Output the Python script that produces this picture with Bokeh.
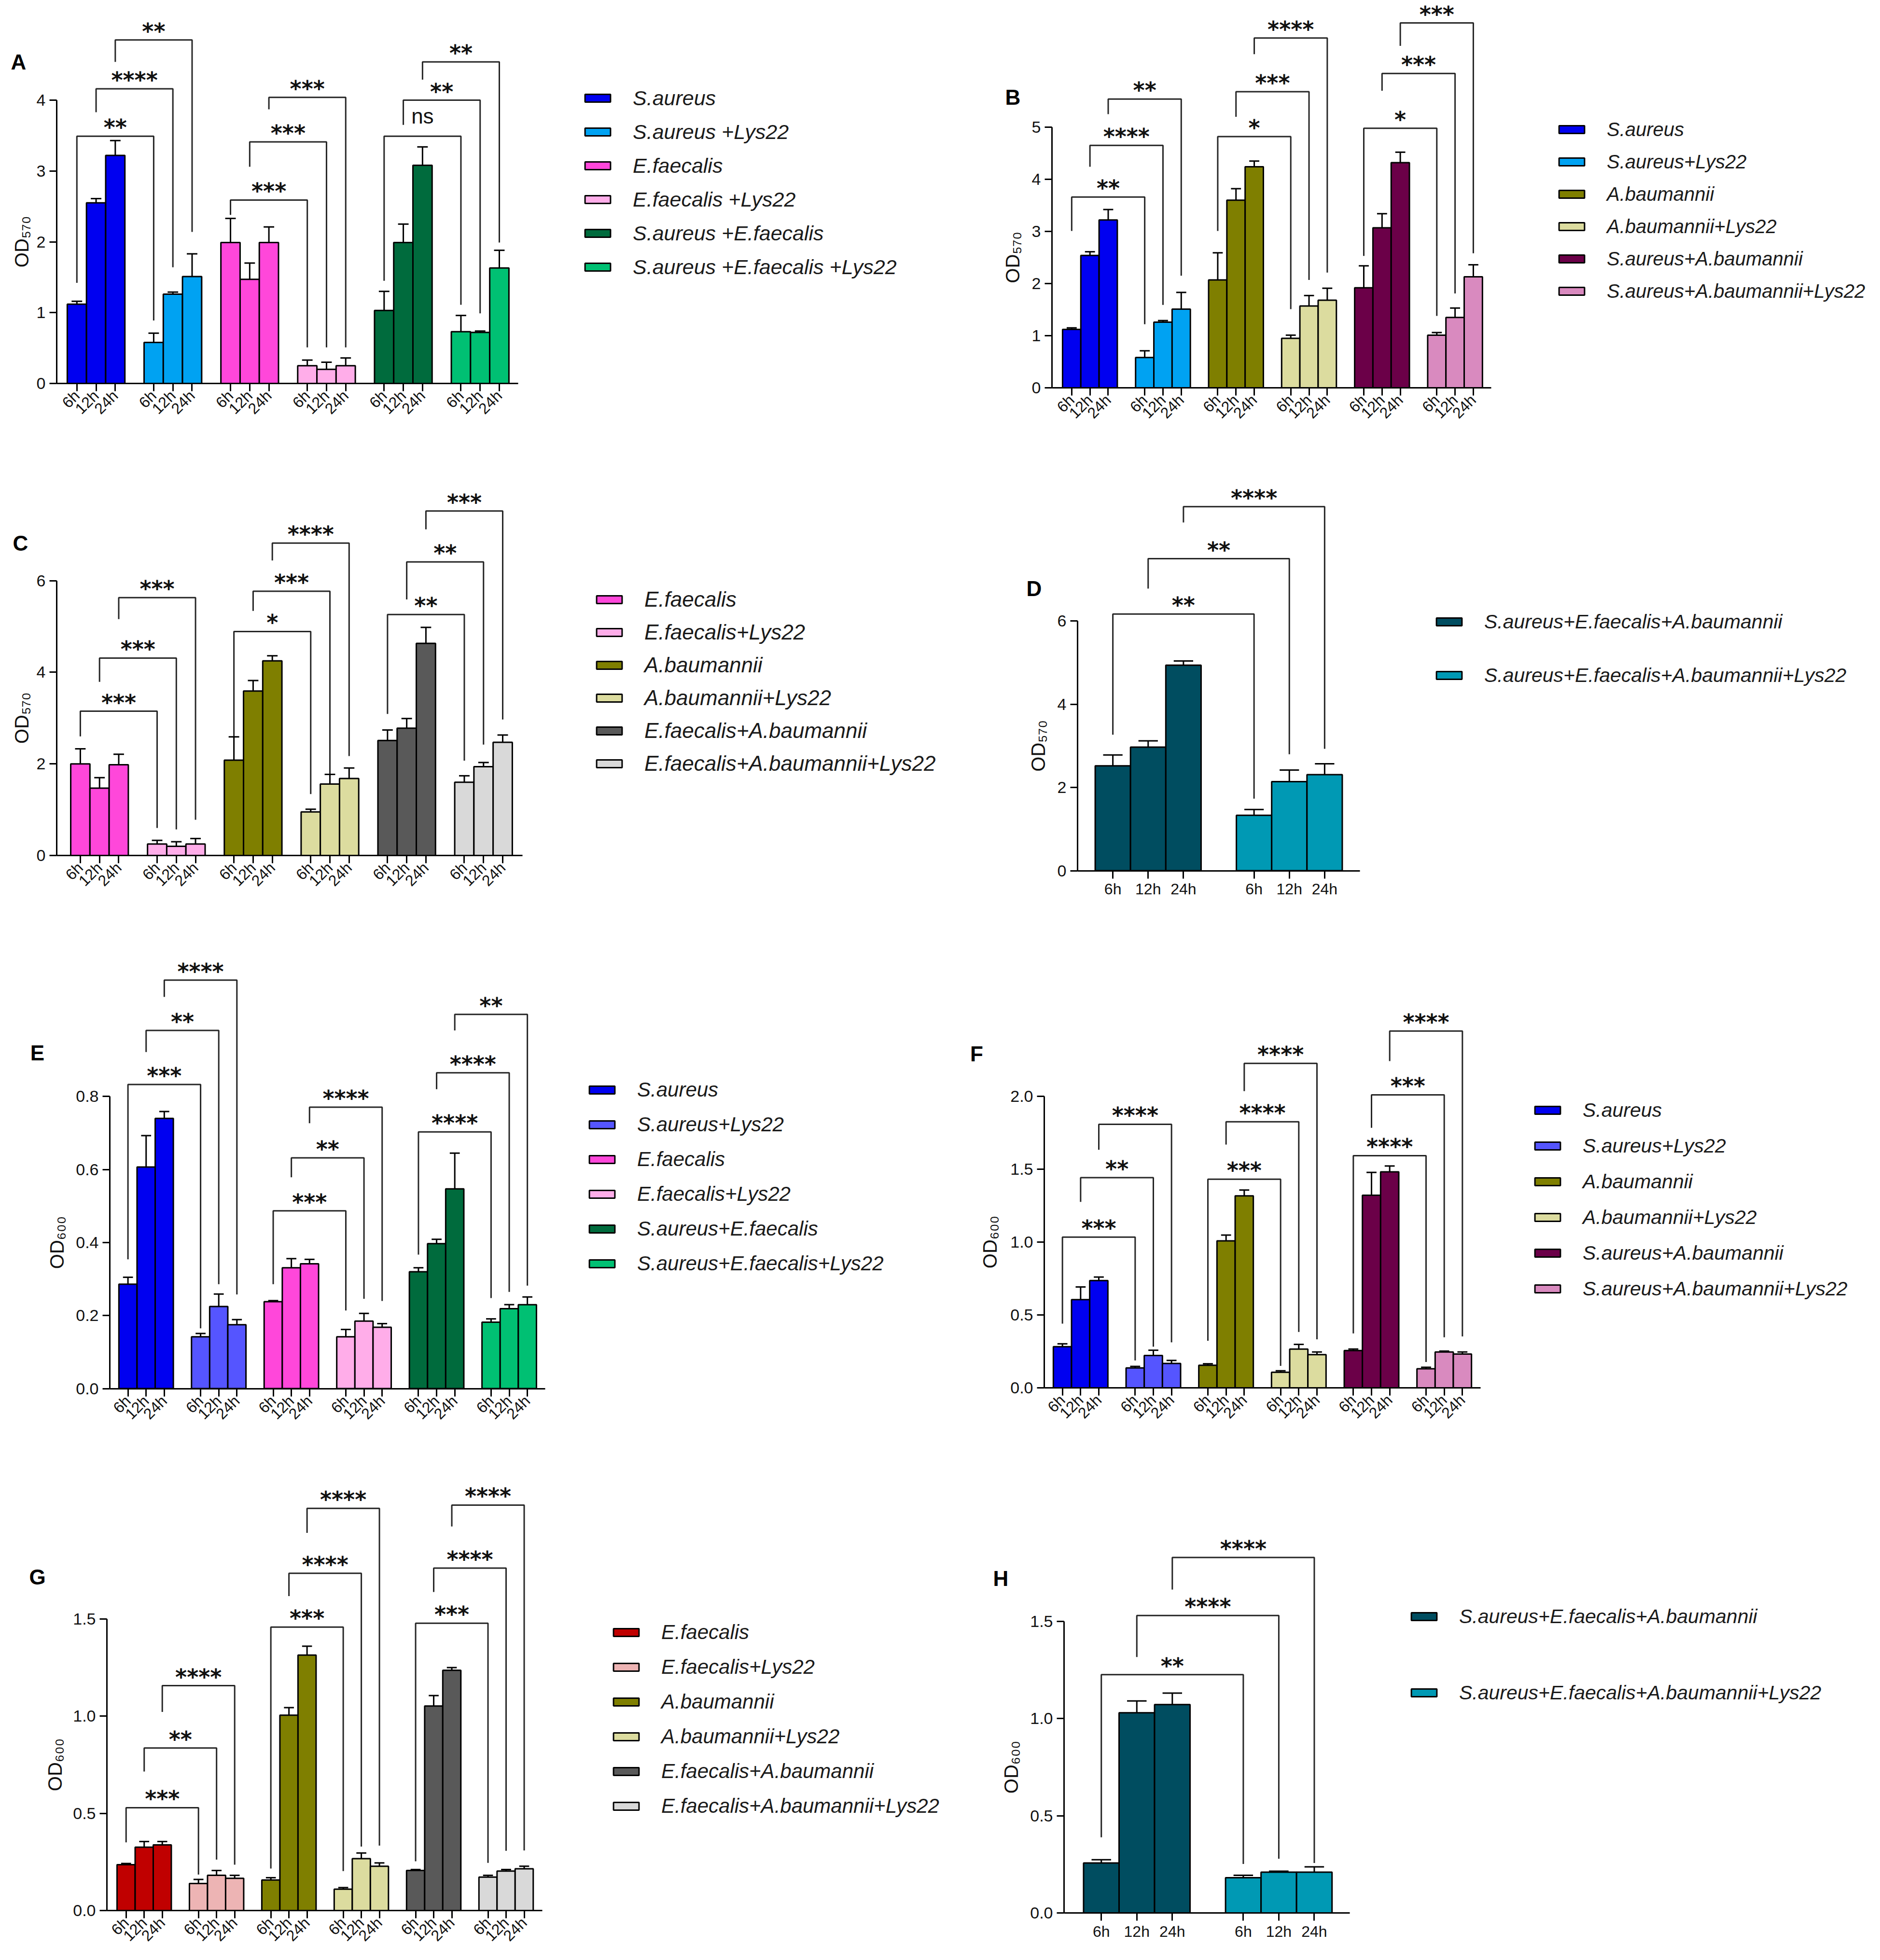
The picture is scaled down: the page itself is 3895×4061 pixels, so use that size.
import math
from bokeh.plotting import figure
from bokeh.models import (ColumnDataSource, Range1d, FixedTicker, Legend, LegendItem,
                          Whisker, TeeHead, LabelSet, Label, PrintfTickFormatter)
from bokeh.layouts import column, row
from bokeh.embed import file_html
from bokeh.resources import INLINE
from bokeh.core.properties import value

TIMES = ["6h", "12h", "24h"]

# ---------------- Panel A (biofilm, OD570) ----------------
A_GROUPS = ["S.aureus", "S.aureus +Lys22", "E.faecalis", "E.faecalis +Lys22",
            "S.aureus +E.faecalis", "S.aureus +E.faecalis +Lys22"]
A_MEAN = [[1.12, 2.55, 3.22], [0.58, 1.26, 1.51], [1.99, 1.47, 1.99],
          [0.25, 0.20, 0.25], [1.03, 1.99, 3.08], [0.73, 0.72, 1.63]]
A_ERR = [[0.04, 0.06, 0.21], [0.13, 0.03, 0.32], [0.34, 0.23, 0.22],
         [0.08, 0.10, 0.11], [0.27, 0.26, 0.26], [0.23, 0.02, 0.25]]
A_SIG = [["**", "****", "**"], ["***", "***", "***"], ["ns", "**", "**"]]
A_SIG_Y = [[3.49, 4.16, 4.85], [2.59, 3.41, 4.04], [3.49, 4.00, 4.54]]
A_LEG_L = [[1.42, 3.83, 4.54], [2.38, 3.06, 3.87], [1.45, 3.65, 4.29]]
A_LEG_R = [[0.89, 1.64, 2.14], [0.51, 0.51, 0.51], [1.11, 0.99, 1.99]]
A_YTICKS = [0, 1, 2, 3, 4]

# ---------------- Panel B (biofilm, OD570) ----------------
B_GROUPS = ["S.aureus", "S.aureus+Lys22", "A.baumannii", "A.baumannii+Lys22",
            "S.aureus+A.baumannii", "S.aureus+A.baumannii+Lys22"]
B_MEAN = [[1.12, 2.54, 3.22], [0.58, 1.26, 1.51], [2.07, 3.60, 4.24],
          [0.95, 1.57, 1.68], [1.92, 3.07, 4.32], [1.01, 1.35, 2.13]]
B_ERR = [[0.03, 0.07, 0.20], [0.13, 0.03, 0.32], [0.52, 0.22, 0.11],
         [0.06, 0.20, 0.23], [0.42, 0.27, 0.20], [0.05, 0.18, 0.23]]
B_SIG = [["**", "****", "**"], ["*", "***", "****"], ["*", "***", "***"]]
B_SIG_Y = [[3.66, 4.65, 5.54], [4.82, 5.68, 6.71], [4.98, 6.03, 7.00]]
B_LEG_L = [[3.01, 4.24, 5.25], [3.01, 5.20, 6.40], [2.53, 5.70, 6.56]]
B_LEG_R = [[1.22, 1.59, 2.15], [1.51, 2.07, 2.21], [1.38, 1.81, 2.58]]
B_YTICKS = [0, 1, 2, 3, 4, 5]

# ---------------- Panel C (biofilm, OD570) ----------------
C_GROUPS = ["E.faecalis", "E.faecalis+Lys22", "A.baumannii", "A.baumannii+Lys22",
            "E.faecalis+A.baumannii", "E.faecalis+A.baumannii+Lys22"]
C_MEAN = [[2.00, 1.47, 1.98], [0.25, 0.20, 0.25], [2.08, 3.59, 4.25],
          [0.95, 1.56, 1.68], [2.51, 2.78, 4.63], [1.60, 1.94, 2.47]]
C_ERR = [[0.33, 0.23, 0.23], [0.08, 0.10, 0.12], [0.51, 0.23, 0.11],
         [0.06, 0.21, 0.23], [0.23, 0.21, 0.35], [0.14, 0.09, 0.16]]
C_SIG = [["***", "***", "***"], ["*", "***", "****"], ["**", "**", "***"]]
C_SIG_Y = [[3.15, 4.31, 5.63], [4.89, 5.77, 6.82], [5.26, 6.41, 7.52]]
C_LEG_L = [[2.60, 3.79, 5.16], [2.57, 5.34, 6.44], [3.09, 5.59, 7.12]]
C_LEG_R = [[0.60, 0.57, 0.78], [1.34, 1.75, 2.17], [2.07, 2.42, 2.97]]
C_YTICKS = [0, 2, 4, 6]

# ---------------- Panel D (biofilm, OD570) ----------------
D_GROUPS = ["S.aureus+E.faecalis+A.baumannii", "S.aureus+E.faecalis+A.baumannii+Lys22"]
D_MEAN = [[2.52, 2.97, 4.94], [1.33, 2.14, 2.31]]
D_ERR = [[0.26, 0.15, 0.10], [0.14, 0.28, 0.26]]
D_SIG = [["**", "**", "****"]]
D_SIG_Y = [[6.17, 7.50, 8.75]]
D_LEG_L = [[3.27, 6.78, 8.37]]
D_LEG_R = [[1.73, 2.80, 2.93]]
D_YTICKS = [0, 2, 4, 6]

# ---------------- Panel E (planktonic, OD600) ----------------
E_GROUPS = ["S.aureus", "S.aureus+Lys22", "E.faecalis", "E.faecalis+Lys22",
            "S.aureus+E.faecalis", "S.aureus+E.faecalis+Lys22"]
E_MEAN = [[0.286, 0.607, 0.740], [0.142, 0.225, 0.175], [0.238, 0.331, 0.342],
          [0.142, 0.185, 0.168], [0.320, 0.397, 0.547], [0.182, 0.219, 0.230]]
E_ERR = [[0.019, 0.086, 0.019], [0.009, 0.034, 0.014], [0.003, 0.025, 0.012],
         [0.020, 0.021, 0.010], [0.011, 0.012, 0.098], [0.009, 0.011, 0.021]]
E_SIG = [["***", "**", "****"], ["***", "**", "****"], ["****", "****", "**"]]
E_SIG_Y = [[0.833, 0.981, 1.119], [0.487, 0.632, 0.771], [0.703, 0.865, 1.025]]
E_LEG_L = [[0.354, 0.922, 1.073], [0.286, 0.579, 0.727], [0.367, 0.820, 0.981]]
E_LEG_R = [[0.165, 0.286, 0.258], [0.214, 0.246, 0.240], [0.248, 0.265, 0.282]]
E_YTICKS = [0.0, 0.2, 0.4, 0.6, 0.8]

# ---------------- Panel F (planktonic, OD600) ----------------
F_GROUPS = ["S.aureus", "S.aureus+Lys22", "A.baumannii", "A.baumannii+Lys22",
            "S.aureus+A.baumannii", "S.aureus+A.baumannii+Lys22"]
F_MEAN = [[0.282, 0.605, 0.736], [0.137, 0.222, 0.167], [0.155, 1.008, 1.317],
          [0.107, 0.266, 0.228], [0.256, 1.321, 1.482], [0.131, 0.246, 0.232]]
F_ERR = [[0.020, 0.087, 0.024], [0.010, 0.036, 0.021], [0.010, 0.040, 0.040],
         [0.010, 0.032, 0.018], [0.010, 0.157, 0.040], [0.010, 0.006, 0.014]]
F_SIG = [["***", "**", "****"], ["***", "****", "****"], ["****", "***", "****"]]
F_SIG_Y = [[1.034, 1.442, 1.808], [1.431, 1.825, 2.226], [1.593, 2.010, 2.448]]
F_LEG_L = [[0.440, 1.276, 1.633], [0.323, 1.669, 2.036], [0.373, 1.784, 2.242]]
F_LEG_R = [[0.188, 0.282, 0.312], [0.151, 0.383, 0.333], [0.177, 0.347, 0.353]]
F_YTICKS = [0.0, 0.5, 1.0, 1.5, 2.0]

# ---------------- Panel G (planktonic, OD600) ----------------
G_GROUPS = ["E.faecalis", "E.faecalis+Lys22", "A.baumannii", "A.baumannii+Lys22",
            "E.faecalis+A.baumannii", "E.faecalis+A.baumannii+Lys22"]
G_MEAN = [[0.236, 0.326, 0.338], [0.139, 0.181, 0.166], [0.157, 1.005, 1.314],
          [0.110, 0.267, 0.228], [0.206, 1.052, 1.236], [0.172, 0.203, 0.215]]
G_ERR = [[0.006, 0.029, 0.017], [0.021, 0.025, 0.015], [0.012, 0.039, 0.046],
         [0.008, 0.029, 0.017], [0.005, 0.054, 0.014], [0.009, 0.008, 0.013]]
G_SIG = [["***", "**", "****"], ["***", "****", "****"], ["***", "****", "****"]]
G_SIG_Y = [[0.529, 0.836, 1.157], [1.458, 1.735, 2.069], [1.478, 1.762, 2.086]]
G_LEG_L = [[0.351, 0.715, 1.022], [0.216, 1.618, 1.943], [0.253, 1.639, 1.976]]
G_LEG_R = [[0.185, 0.262, 0.236], [0.203, 0.329, 0.334], [0.245, 0.307, 0.309]]
G_YTICKS = [0.0, 0.5, 1.0, 1.5]

# ---------------- Panel H (planktonic, OD600) ----------------
H_GROUPS = ["S.aureus+E.faecalis+A.baumannii", "S.aureus+E.faecalis+A.baumannii+Lys22"]
H_MEAN = [[0.257, 1.030, 1.072], [0.181, 0.210, 0.210]]
H_ERR = [[0.017, 0.061, 0.059], [0.013, 0.005, 0.027]]
H_SIG = [["**", "****", "****"]]
H_SIG_Y = [[1.226, 1.530, 1.829]]
H_LEG_L = [[0.389, 1.317, 1.664]]
H_LEG_R = [[0.252, 0.279, 0.257]]
H_YTICKS = [0.0, 0.5, 1.0, 1.5]

# ---------------- styles ----------------
BLUE, SKY, PERI = "#0000F0", "#00A2F2", "#5555FF"
PINK, LPINK = "#FF47DA", "#FFADE9"
RED, SALMON = "#C00000", "#EDB4B4"
DGREEN, GREEN = "#006B3D", "#00C073"
OLIVE, KHAKI = "#7F7F00", "#DCDC9F"
MAROON, MAUVE = "#6B0048", "#D98ABF"
DGRAY, LGRAY = "#595959", "#D9D9D9"
TEAL_D, TEAL = "#004D60", "#0099B4"

FONT = "Liberation Sans"
STAR_FONT = "DejaVu Sans"

LEFT_X, LEFT_W = 8, 1990
RIGHT_X, RIGHT_W = 1998, 1889
ROWS = [(8, 928), (928, 1893), (1893, 2978), (2978, 4048)]


def make_panel(letter, groups, colors, means, errs, sig, sig_y, leg_l, leg_r,
               yticks, ylabel, fmt, g):
    rowt, rowb = ROWS[g["row"]]
    figx, figw = (LEFT_X, LEFT_W) if g["col"] == 0 else (RIGHT_X, RIGHT_W)
    height = rowb - rowt
    ax0, ax1 = g["xr"]                       # data extent of the x axis line
    bar_px = (g["fr"] - g["fl"]) / (ax1 - ax0)
    px0 = g["fl"] - ax0 * bar_px             # page px of data x = 0
    ppu = g["ppu"]
    p = figure(width=figw, height=height, title=None,
               x_range=Range1d((figx - px0) / bar_px, (figx + figw - px0) / bar_px),
               y_range=Range1d((g["y0"] - rowb) / ppu, (g["y0"] - rowt) / ppu),
               min_border_left=0, min_border_right=0, min_border_top=0, min_border_bottom=0,
               output_backend="svg", toolbar_location=None)
    p.xgrid.visible = False
    p.ygrid.visible = False
    p.outline_line_color = None
    p.background_fill_color = "white"
    p.border_fill_color = "white"

    renderers = []
    for gi, name in enumerate(groups):
        xs = [gi * 4 + t for t in range(len(TIMES))]
        ups = [m + e for m, e in zip(means[gi], errs[gi])]
        src = ColumnDataSource(dict(x=xs, top=means[gi], upper=ups))
        r = p.vbar(x="x", top="top", bottom=0, width=1, source=src,
                   fill_color=colors[gi], line_color="black", line_width=3)
        renderers.append(r)
        p.add_layout(Whisker(source=src, base="x", upper="upper", lower="top",
                             dimension="height", line_color="black", line_width=3,
                             upper_head=TeeHead(size=bar_px * 0.55, line_color="black",
                                                line_width=3),
                             lower_head=None, level="annotation"))

    bx, by = [], []
    sx, sy, st = [], [], []
    nx, ny, nt = [], [], []
    for k in range(len(sig)):
        for t in range(len(TIMES)):
            xl = (2 * k) * 4 + t
            xr = (2 * k + 1) * 4 + t
            bx.append([xl, xl, xr, xr])
            by.append([leg_l[k][t], sig_y[k][t], sig_y[k][t], leg_r[k][t]])
            if sig[k][t] == "ns":
                nx.append((xl + xr) / 2); ny.append(sig_y[k][t]); nt.append(sig[k][t])
            else:
                sx.append((xl + xr) / 2); sy.append(sig_y[k][t]); st.append(sig[k][t])
    p.multi_line(xs=bx, ys=by, line_color="#262626", line_width=3)
    p.add_layout(LabelSet(x="x", y="y", text="t", source=ColumnDataSource(dict(x=sx, y=sy, t=st)),
                          text_align="center", text_baseline="alphabetic", y_offset=2,
                          text_font=value(STAR_FONT), text_font_style="bold",
                          text_font_size="46px", text_color="#111111"))
    if nt:
        p.add_layout(LabelSet(x="x", y="y", text="t", source=ColumnDataSource(dict(x=nx, y=ny, t=nt)),
                              text_align="center", text_baseline="alphabetic", y_offset=26,
                              text_font=value(FONT), text_font_size="44px",
                              text_color="#111111"))

    # panel letter
    p.add_layout(Label(x=(g["letter"][0] - px0) / bar_px, y=g["letter"][1],
                       text=letter, text_align="center", text_baseline="middle",
                       text_font=FONT, text_font_style="bold", text_font_size="44px",
                       text_color="black"))
    # y-axis title, centred on the drawn axis
    p.add_layout(Label(x=(g["ylab_x"] - px0) / bar_px, y=(yticks[0] + yticks[-1]) / 2,
                       text=ylabel, angle=math.pi / 2, text_align="center",
                       text_baseline="alphabetic", text_font=FONT,
                       text_font_size="40px", text_color="#111111"))

    yax = p.yaxis[0]
    yax.fixed_location = ax0
    yax.ticker = FixedTicker(ticks=yticks)
    yax.bounds = (yticks[0], yticks[-1])
    yax.formatter = PrintfTickFormatter(format=fmt)
    yax.minor_tick_line_color = None
    yax.major_tick_out = 15
    yax.major_tick_in = 0
    yax.axis_line_width = 3
    yax.major_tick_line_width = 3
    yax.axis_line_color = "black"
    yax.major_tick_line_color = "black"
    yax.major_label_text_font = FONT
    yax.major_label_text_font_size = "34px"
    yax.major_label_text_color = "#111111"
    yax.major_label_standoff = 8

    xax = p.xaxis[0]
    xax.fixed_location = 0
    ticks = [gi * 4 + t for gi in range(len(groups)) for t in range(len(TIMES))]
    xax.ticker = FixedTicker(ticks=ticks)
    xax.bounds = (ax0, ax1)
    xax.major_label_overrides = {x: TIMES[x % 4] for x in ticks}
    xax.minor_tick_line_color = None
    xax.major_tick_out = 16
    xax.major_tick_in = 0
    xax.axis_line_width = 3
    xax.major_tick_line_width = 3
    xax.axis_line_color = "black"
    xax.major_tick_line_color = "black"
    xax.major_label_text_font = FONT
    xax.major_label_text_font_size = "32px"
    xax.major_label_text_color = "#111111"
    xax.major_label_standoff = 4
    xax.major_label_orientation = math.pi / 4 if g["rot"] else "horizontal"

    sw, first, gap, fsize = g["legend"]
    item_h = 50
    n = len(groups)
    leg_top = first - item_h / 2
    leg_h = n * item_h + (n - 1) * (gap - item_h)
    vx = sw - figx
    vy = rowb - (leg_top + leg_h)
    items = [LegendItem(label=name, renderers=[r]) for name, r in zip(groups, renderers)]
    leg = Legend(items=items, location=(vx, vy), glyph_width=66, glyph_height=20,
                 label_standoff=40, label_height=item_h, spacing=int(round(gap - item_h)),
                 padding=0, margin=0, border_line_color=None, background_fill_alpha=0,
                 label_text_font=FONT, label_text_font_style="italic",
                 label_text_font_size=f"{fsize}px", label_text_color="#1a1a1a")
    p.add_layout(leg)
    return p


OD570 = "OD\u2085\u2087\u2080"
OD600 = "OD\u2086\u2080\u2080"

pA = make_panel("A", A_GROUPS, [BLUE, SKY, PINK, LPINK, DGREEN, GREEN], A_MEAN, A_ERR,
                A_SIG, A_SIG_Y, A_LEG_L, A_LEG_R, A_YTICKS, OD570, "%d",
                dict(row=0, col=0, fl=125, fr=1081, y0=802, ppu=146.75, ylab_x=52,
                     xr=(-1.05, 22.98), letter=(46, 4.54), legend=(1213, 212, 69.8, 43), rot=True))
pB = make_panel("B", B_GROUPS, [BLUE, SKY, OLIVE, KHAKI, MAROON, MAUVE], B_MEAN, B_ERR,
                B_SIG, B_SIG_Y, B_LEG_L, B_LEG_R, B_YTICKS, OD570, "%d",
                dict(row=0, col=1, fl=2187, fr=3097, y0=811, ppu=108.0, ylab_x=2105,
                     xr=(-1.08, 22.98), letter=(2106, 5.57), legend=(3231, 278, 66.6, 40), rot=True))
pC = make_panel("C", C_GROUPS, [PINK, LPINK, OLIVE, KHAKI, DGRAY, LGRAY], C_MEAN, C_ERR,
                C_SIG, C_SIG_Y, C_LEG_L, C_LEG_R, C_YTICKS, OD570, "%d",
                dict(row=1, col=0, fl=125, fr=1090, y0=1780, ppu=94.9, ylab_x=52,
                     xr=(-1.23, 23.03), letter=(50, 6.82), legend=(1237, 1249, 68.2, 44), rot=True))
pD = make_panel("D", D_GROUPS, [TEAL_D, TEAL], D_MEAN, D_ERR,
                D_SIG, D_SIG_Y, D_LEG_L, D_LEG_R, D_YTICKS, OD570, "%d",
                dict(row=1, col=1, fl=2240, fr=2825, y0=1811.5, ppu=86.2, ylab_x=2158,
                     xr=(-1.0, 7.0), letter=(2150, 6.78), legend=(2977, 1296, 111, 41), rot=False))
pE = make_panel("E", E_GROUPS, [BLUE, PERI, PINK, LPINK, DGREEN, GREEN], E_MEAN, E_ERR,
                E_SIG, E_SIG_Y, E_LEG_L, E_LEG_R, E_YTICKS, OD600, "%.1f",
                dict(row=2, col=0, fl=235, fr=1137, y0=2884.6, ppu=756.4, ylab_x=125,
                     xr=(-1.0, 22.98), letter=(85, 0.92), legend=(1222, 2265, 72.2, 42), rot=True))
pF = make_panel("F", F_GROUPS, [BLUE, PERI, OLIVE, KHAKI, MAROON, MAUVE], F_MEAN, F_ERR,
                F_SIG, F_SIG_Y, F_LEG_L, F_LEG_R, F_YTICKS, OD600, "%.1f",
                dict(row=2, col=1, fl=2171, fr=3075, y0=2883, ppu=302.0, ylab_x=2058,
                     xr=(-1.0, 23.0), letter=(2031, 2.292), legend=(3181, 2308, 74.0, 41), rot=True))
pG = make_panel("G", G_GROUPS, [RED, SALMON, OLIVE, KHAKI, DGRAY, LGRAY], G_MEAN, G_ERR,
                G_SIG, G_SIG_Y, G_LEG_L, G_LEG_R, G_YTICKS, OD600, "%.1f",
                dict(row=3, col=0, fl=229, fr=1131, y0=3966, ppu=402.7, ylab_x=121,
                     xr=(-1.06, 23.0), letter=(85, 1.715), legend=(1272, 3389, 72.2, 42), rot=True))
pH = make_panel("H", H_GROUPS, [TEAL_D, TEAL], H_MEAN, H_ERR,
                H_SIG, H_SIG_Y, H_LEG_L, H_LEG_R, H_YTICKS, OD600, "%.1f",
                dict(row=3, col=1, fl=2212, fr=2804, y0=3971, ppu=402.7, ylab_x=2102,
                     xr=(-1.05, 7.0), letter=(2081, 1.72), legend=(2925, 3357, 158, 41), rot=False))

layout = column(row(pA, pB), row(pC, pD), row(pE, pF), row(pG, pH))

with open("out.html", "w") as f:
    f.write(file_html(layout, INLINE))
